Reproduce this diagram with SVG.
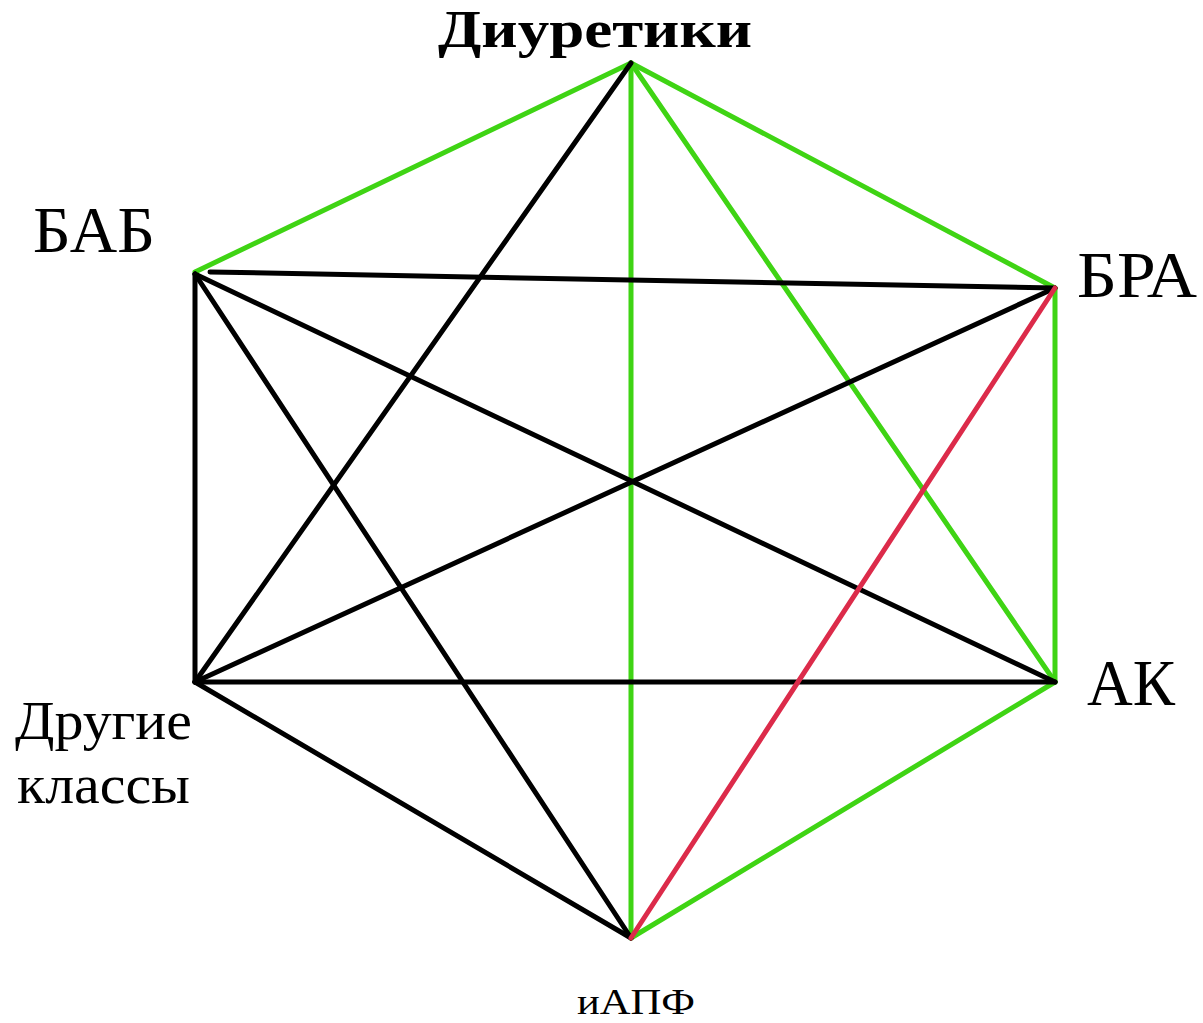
<svg xmlns="http://www.w3.org/2000/svg" width="1203" height="1023" viewBox="0 0 1203 1023">
<style>
.g{stroke:#3fd414;stroke-width:5;fill:none;stroke-linecap:round}
.k{stroke:#000;stroke-width:5;fill:none;stroke-linecap:round}
.r{stroke:#dc2b4a;stroke-width:5;fill:none;stroke-linecap:round}
text{font-family:"Liberation Serif","DejaVu Serif",serif;fill:#000}
</style>
<rect width="1203" height="1023" fill="#fff"/>
<g id="connectors">
<line class="g" x1="631" y1="63" x2="195" y2="272"/>
<line class="g" x1="631" y1="63" x2="1055" y2="288"/>
<line class="g" x1="631" y1="63" x2="631" y2="938"/>
<line class="g" x1="631" y1="63" x2="1055" y2="682"/>
<line class="g" x1="1055" y1="288" x2="1055" y2="682"/>
<line class="g" x1="1055" y1="682" x2="631" y2="938"/>
<line class="k" x1="631" y1="63" x2="195" y2="682"/>
<line class="k" x1="210" y1="272" x2="1055" y2="288"/>
<line class="k" x1="195" y1="274" x2="195" y2="682"/>
<line class="k" x1="195" y1="274" x2="631" y2="938"/>
<line class="k" x1="195" y1="274" x2="1055" y2="682"/>
<line class="k" x1="195" y1="682" x2="1055" y2="288"/>
<line class="k" x1="195" y1="682" x2="1055" y2="682"/>
<line class="k" x1="195" y1="682" x2="631" y2="938"/>
<line class="r" x1="1055" y1="288" x2="631" y2="938"/>
</g>
<g id="node-diuretiki"><text x="438" y="47" font-size="52" font-weight="bold" textLength="314" lengthAdjust="spacingAndGlyphs">Диуретики</text></g>
<g id="node-bab"><text x="33" y="252" font-size="66" textLength="122" lengthAdjust="spacingAndGlyphs">БАБ</text></g>
<g id="node-bra"><text x="1077" y="297" font-size="66" textLength="120" lengthAdjust="spacingAndGlyphs">БРА</text></g>
<g id="node-ak"><text x="1087" y="705" font-size="66" textLength="88" lengthAdjust="spacingAndGlyphs">АК</text></g>
<g id="node-other"><text x="15" y="739" font-size="55" textLength="177" lengthAdjust="spacingAndGlyphs">Другие</text><text x="17" y="803" font-size="55" textLength="173" lengthAdjust="spacingAndGlyphs">классы</text></g>
<g id="node-iapf"><text x="577" y="1014" font-size="36" textLength="118" lengthAdjust="spacingAndGlyphs">иАПФ</text></g>
</svg>
